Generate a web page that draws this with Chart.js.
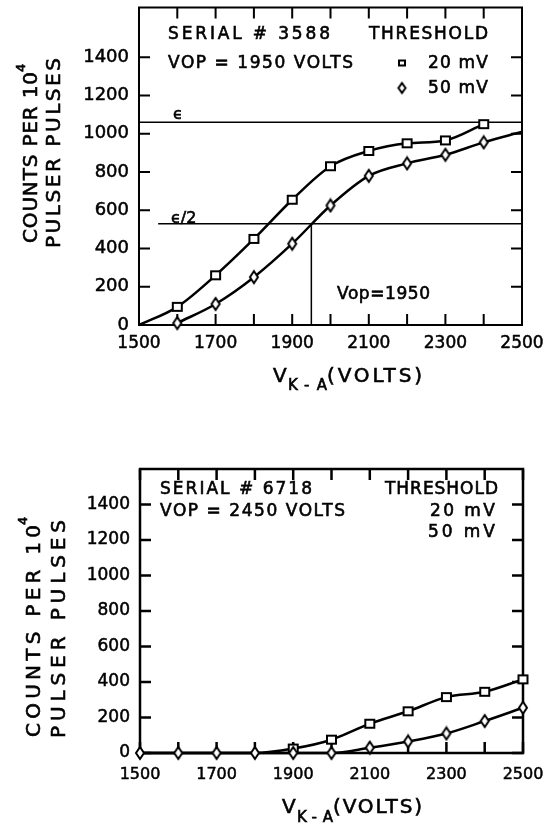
<!DOCTYPE html>
<html>
<head>
<meta charset="utf-8">
<script src="https://cdn.jsdelivr.net/npm/chart.js@4.4.0/dist/chart.umd.min.js"></script>
<style>
  html, body { margin: 0; padding: 0; background: #fff; }
  .box { position: relative; width: 550px; }
  canvas { display: block; }
</style>
</head>
<body>
<div class="box" style="height:400px"><canvas id="topChart" width="550" height="400"></canvas></div>
<div class="box" style="height:424px"><canvas id="bottomChart" width="550" height="424"></canvas></div>
<script>
// data (counts per 10^4 pulser pulses vs V K-A)
var volts = [1500, 1600, 1700, 1800, 1900, 2000, 2100, 2200, 2300, 2400, 2500];
var top20mV = [0, 95, 260, 450, 655, 830, 910, 950, 965, 1050, null];
var top50mV = [null, 10, 110, 250, 425, 625, 780, 845, 890, 955, 1010];
var bottom20mV = [0, 0, 0, 0, 25, 75, 165, 235, 315, 345, 415];
var bottom50mV = [0, 0, 0, 0, 0, 0, 30, 65, 110, 180, 255];

var epsilon = 1060;
var halfEpsilon = 530;
var vop = 1950;
var halfEpsilonStart = 1550;

var xTicks = [1500, 1600, 1700, 1800, 1900, 2000, 2100, 2200, 2300, 2400, 2500];
var xLabels = [1500, 1700, 1900, 2100, 2300, 2500];
var yTicks = [0, 200, 400, 600, 800, 1000, 1200, 1400];

Chart.defaults.font.family = 'DejaVu Sans';
Chart.defaults.color = '#000';

function points(xs, ys) {
  var out = [];
  xs.forEach(function (x, i) { if (ys[i] !== null) out.push({ x: x, y: ys[i] }); });
  return out;
}

function marker(w, h, kind) {
  var c = document.createElement('canvas');
  c.width = w + 4; c.height = h + 4;
  var g = c.getContext('2d');
  g.lineWidth = 2; g.strokeStyle = '#000'; g.fillStyle = '#fff';
  g.beginPath();
  if (kind === 'square') {
    g.rect(2, 2, w, h);
  } else {
    g.moveTo(2 + w / 2, 2); g.lineTo(2 + w, 2 + h / 2);
    g.lineTo(2 + w / 2, 2 + h); g.lineTo(2, 2 + h / 2); g.closePath();
  }
  g.fill(); g.stroke();
  return c;
}
var squareMark = marker(9, 8, 'square');
var diamondMark = marker(8, 12, 'diamond');
var squareSmall = marker(6, 5, 'square');
var diamondSmall = marker(7, 10, 'diamond');

// draw text stretched to a given width (the original lettering is wide and heavy)
function fitText(ctx, t, x, y, size, width) {
  ctx.font = size + 'px "DejaVu Sans"';
  ctx.letterSpacing = '0px';
  if (width) {
    var w = ctx.measureText(t).width;
    var n = Math.max(1, t.length - 1);
    ctx.letterSpacing = ((width - w) / n) + 'px';
  }
  ctx.fillText(t, x, y);
  ctx.strokeText(t, x, y);
  ctx.letterSpacing = '0px';
}

var frame = {
  id: 'frame',
  beforeDatasetsDraw: function (chart, args, o) {
    var ctx = chart.ctx, a = chart.chartArea, xs = chart.scales.x, ys = chart.scales.y;
    ctx.save();
    ctx.strokeStyle = '#000';
    ctx.lineWidth = o.width;
    ctx.strokeRect(a.left, a.top, a.right - a.left, a.bottom - a.top);
    ctx.beginPath();
    xTicks.forEach(function (v) {
      var p = xs.getPixelForValue(v);
      ctx.moveTo(p, a.bottom); ctx.lineTo(p, a.bottom - o.len);
      ctx.moveTo(p, a.top); ctx.lineTo(p, a.top + o.len);
    });
    yTicks.forEach(function (v) {
      var p = ys.getPixelForValue(v);
      ctx.moveTo(a.left, p); ctx.lineTo(a.left + o.len, p);
      ctx.moveTo(a.right, p); ctx.lineTo(a.right - o.len, p);
    });
    ctx.stroke();
    ctx.restore();
  },
  afterDraw: function (chart, args, o) {
    var ctx = chart.ctx;
    ctx.save();
    ctx.fillStyle = '#000';
    ctx.strokeStyle = '#000';
    ctx.lineWidth = 0.6;
    ctx.textBaseline = 'alphabetic';
    ctx.textAlign = 'left';
    (o.texts || []).forEach(function (t) {
      if (t.rot) {
        ctx.save();
        ctx.translate(t.x, t.y);
        ctx.rotate(-Math.PI / 2);
        fitText(ctx, t.t, 0, 0, t.size, t.w);
        ctx.restore();
      } else {
        fitText(ctx, t.t, t.x, t.y, t.size, t.w);
      }
    });
    (o.marks || []).forEach(function (m) {
      ctx.drawImage(m.img, m.x - m.img.width / 2, m.y - m.img.height / 2);
    });
    ctx.restore();
  }
};

function scales(yMax, yWidth, xHeight, xFont, yFont, xPad) {
  return {
    x: {
      type: 'linear', min: 1500, max: 2500,
      grid: { display: false, drawTicks: false }, border: { display: false },
      afterBuildTicks: function (s) { s.ticks = xTicks.map(function (v) { return { value: v }; }); },
      afterFit: function (s) { s.height = xHeight; s.paddingLeft = 0; s.paddingRight = 0; },
      ticks: {
        autoSkip: false, maxRotation: 0, padding: xPad,
        font: { size: xFont }, textStrokeColor: '#000', textStrokeWidth: 0.5,
        callback: function (v) { return xLabels.indexOf(v) >= 0 ? String(v) : ''; }
      }
    },
    y: {
      min: 0, max: yMax,
      grid: { display: false, drawTicks: false }, border: { display: false },
      afterBuildTicks: function (s) { s.ticks = yTicks.map(function (v) { return { value: v }; }); },
      afterFit: function (s) { s.width = yWidth; s.paddingTop = 0; s.paddingBottom = 0; },
      ticks: {
        autoSkip: false, padding: 10,
        font: { size: yFont }, textStrokeColor: '#000', textStrokeWidth: 0.5,
        callback: function (v) { return String(v); }
      }
    }
  };
}

function curve(data, img, hidden) {
  return {
    data: data,
    borderColor: '#000',
    borderWidth: 2.5,
    cubicInterpolationMode: 'monotone',
    pointStyle: img,
    pointRadius: function (c) { return hidden(c.raw) ? 0 : 5; },
    clip: false
  };
}

function refLine(data) {
  return { data: data, borderColor: '#000', borderWidth: 1.5, pointRadius: 0, tension: 0 };
}

new Chart(document.getElementById('topChart'), {
  type: 'line',
  data: {
    datasets: [
      curve(points(volts, top20mV), squareMark, function (p) { return p.x === 1500; }),
      curve(points(volts, top50mV), diamondMark, function (p) { return p.x === 2500; }),
      refLine([{ x: 1500, y: epsilon }, { x: 2500, y: epsilon }]),
      refLine([{ x: halfEpsilonStart, y: halfEpsilon }, { x: 2500, y: halfEpsilon }]),
      refLine([{ x: vop, y: 0 }, { x: vop, y: halfEpsilon }])
    ]
  },
  options: {
    responsive: false,
    animation: false,
    layout: { padding: { top: 7, right: 28, left: 0, bottom: 0 } },
    plugins: {
      legend: { display: false },
      tooltip: { enabled: false },
      frame: {
        width: 2, len: 11,
        texts: [
          { t: 'SERIAL # 3588', x: 168, y: 39, size: 17, w: 162 },
          { t: 'THRESHOLD', x: 369, y: 39, size: 17, w: 119 },
          { t: 'VOP = 1950 VOLTS', x: 168, y: 68, size: 17, w: 185 },
          { t: '20 mV', x: 428, y: 68, size: 17, w: 60 },
          { t: '50 mV', x: 428, y: 93, size: 17, w: 60 },
          { t: 'Vop=1950', x: 337, y: 299, size: 17, w: 93 },
          { t: '\u03F5', x: 173, y: 119, size: 16 },
          { t: '\u03F5/2', x: 171, y: 223, size: 16 },
          { t: 'COUNTS PER 10', x: 37, y: 243, size: 20, w: 171, rot: true },
          { t: '4', x: 25, y: 72, size: 13, rot: true },
          { t: 'PULSER PULSES', x: 60, y: 248, size: 20, w: 190, rot: true },
          { t: 'V', x: 273, y: 382, size: 20 },
          { t: 'K-A', x: 288, y: 390, size: 15, w: 39 },
          { t: '(VOLTS)', x: 327, y: 382, size: 20, w: 95 }
        ],
        marks: [
          { img: squareSmall, x: 402, y: 63 },
          { img: diamondSmall, x: 402, y: 88 }
        ]
      }
    },
    scales: scales(1660, 139, 75, 17, 18, 8)
  },
  plugins: [frame]
});

new Chart(document.getElementById('bottomChart'), {
  type: 'line',
  data: {
    datasets: [
      curve(points(volts, bottom50mV), diamondMark, function () { return false; }),
      curve(points(volts, bottom20mV), squareMark, function (p) { return p.y === 0; })
    ]
  },
  options: {
    responsive: false,
    animation: false,
    layout: { padding: { top: 69, right: 27, left: 0, bottom: 0 } },
    plugins: {
      legend: { display: false },
      tooltip: { enabled: false },
      frame: {
        width: 2.5, len: 11,
        texts: [
          { t: 'SERIAL # 6718', x: 160, y: 94, size: 17, w: 152 },
          { t: 'THRESHOLD', x: 385, y: 94, size: 17, w: 113 },
          { t: 'VOP = 2450 VOLTS', x: 160, y: 116, size: 17, w: 185 },
          { t: '20 mV', x: 430, y: 116, size: 17, w: 65 },
          { t: '50 mV', x: 428, y: 137, size: 17, w: 67 },
          { t: 'COUNTS PER 10', x: 40, y: 337, size: 20, w: 212, rot: true },
          { t: '4', x: 27, y: 125, size: 13, rot: true },
          { t: 'PULSER PULSES', x: 65, y: 338, size: 20, w: 218, rot: true },
          { t: 'V', x: 282, y: 413, size: 20 },
          { t: 'K-A', x: 297, y: 422, size: 15, w: 36 },
          { t: '(VOLTS)', x: 333, y: 413, size: 20, w: 89 }
        ]
      }
    },
    scales: scales(1600, 140, 71, 16, 17, 12)
  },
  plugins: [frame]
});
</script>
</body>
</html>
